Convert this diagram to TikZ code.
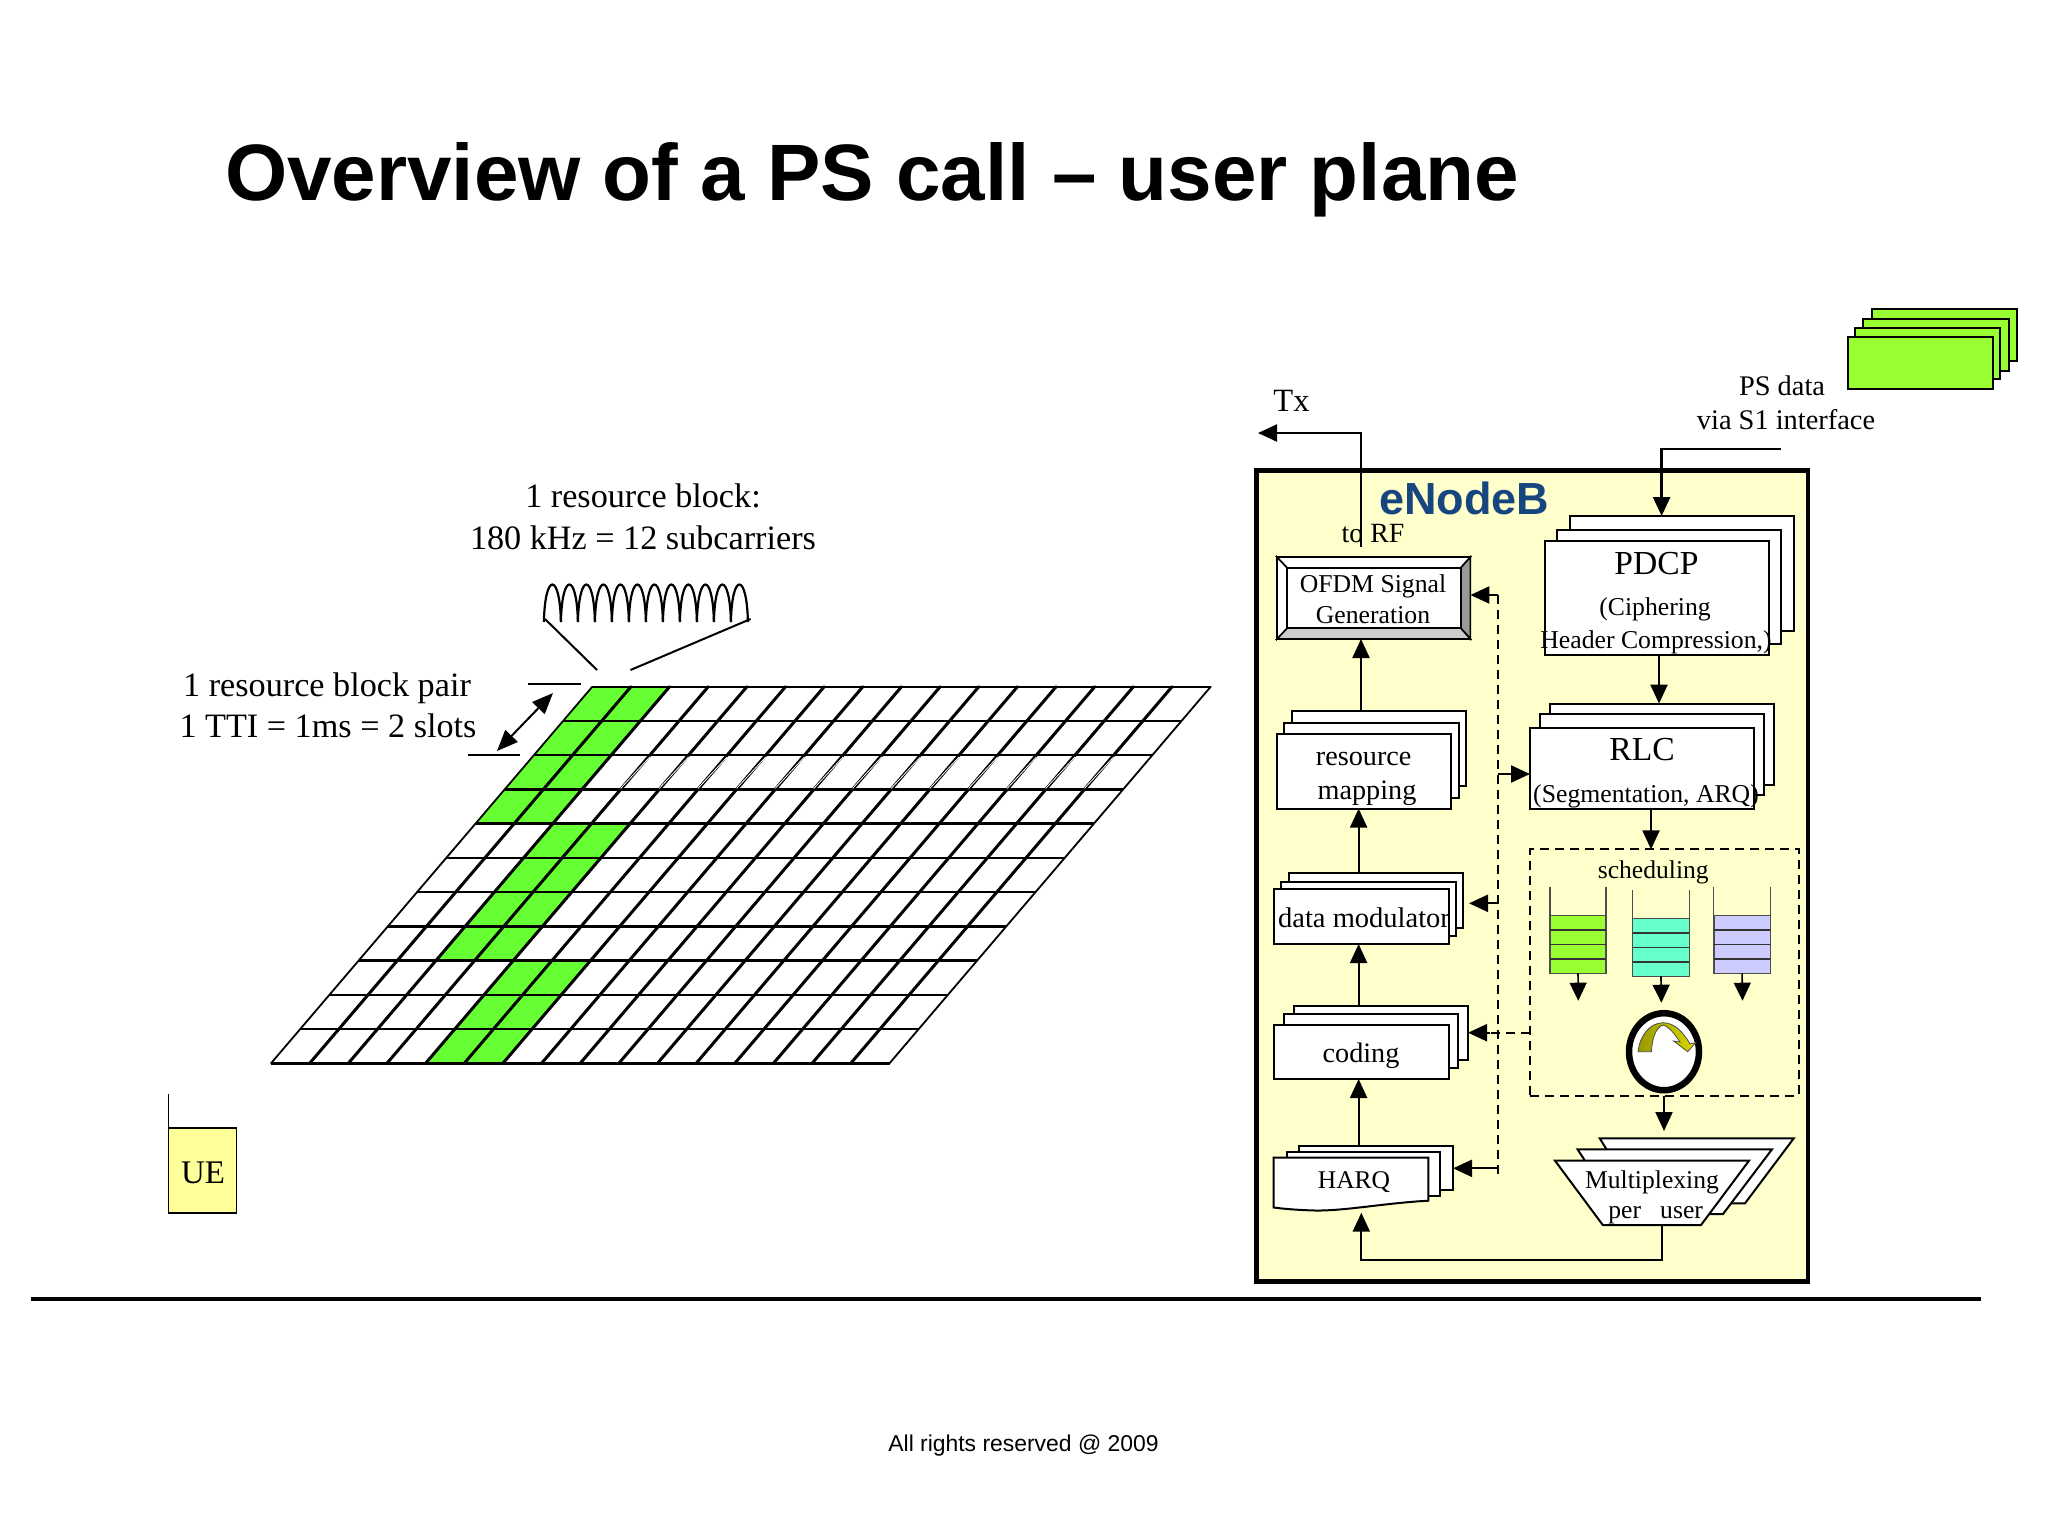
\documentclass[tikz,border=0pt]{standalone}
\usepackage{fontspec}
\setmainfont{Liberation Serif}
\newfontfamily\arialfont{Liberation Sans}
\usetikzlibrary{arrows.meta}
\definecolor{cellgreen}{HTML}{66FF33}
\definecolor{limegreen}{HTML}{99FF33}
\definecolor{aquagreen}{HTML}{66FFCC}
\definecolor{lilac}{HTML}{CCCCFF}
\definecolor{paleyellow}{HTML}{FFFFCC}
\definecolor{uefill}{HTML}{FFFF99}
\definecolor{enbblue}{HTML}{17457F}
\newcommand{\fs}[1]{\fontsize{#1}{#1}\selectfont}
\newcommand{\rectnode}[6][]{%
  \pgfmathsetmacro\rw{#5-#3}\pgfmathsetmacro\rh{#6-#4}%
  \pgfmathsetmacro\rx{(#5+#3)/2}\pgfmathsetmacro\ry{(#6+#4)/2}%
  \node[pbox,minimum width=\rw pt,minimum height=\rh pt,#1] (#2) at (\rx,\ry) {};}
\tikzset{
  x=1pt,y=-1pt,
  pbox/.style={draw=black,fill=white,line width=2pt,inner sep=0pt,outer sep=0pt,rectangle},
  lbl/.style={anchor=base,inner sep=0pt,outer sep=0pt,text=black},
  arr/.style={line width=2.2pt,-{Triangle[length=19pt,width=17pt]}},
  dashline/.style={line width=2.2pt,dash pattern=on 9pt off 6pt},
  gridthin/.style={line width=1.8pt,line cap=round},
  gridthick/.style={line width=3pt,line cap=round},
}
\begin{document}
\begin{tikzpicture}
\useasboundingbox (0,0) rectangle (2048,1537);
\fill[white] (0,0) rectangle (2048,1537);

% title and footer
\node[lbl,anchor=base west,font=\arialfont\bfseries\fs{80}] (title) at (225,200) {Overview of a PS call – user plane};
\node[lbl,font=\arialfont\fs{22.9}] (footer) at (1023.5,1451) {All rights reserved @ 2009};
\coordinate (ruleL) at (31,1299);
\coordinate (ruleR) at (1981,1299);
\draw[line width=3.5pt] (ruleL) -- (ruleR);

% resource grid: cell (c,r) has its top-left corner at (592.3-29.2r+38.65c, 686.7+34.24r)
\newcommand{\gcell}[2]{%
  \pgfmathsetmacro\xa{592.3-29.2*#2+38.65*#1}\pgfmathsetmacro\ya{686.7+34.24*#2}%
  \pgfmathsetmacro\xb{\xa-29.2}\pgfmathsetmacro\yb{\ya+34.24}%
  \fill[cellgreen] (\xa,\ya) -- ++(77.3,0) -- (\xb+77.3,\yb) -- (\xb,\yb) -- cycle;}
\foreach \r in {0,...,3}{\gcell{0}{\r}}
\foreach \r in {4,...,7}{\gcell{2}{\r}}
\foreach \r in {8,9,10}{\gcell{4}{\r}}
\foreach \r in {0,...,11}{
  \pgfmathsetmacro\xa{592.3-29.2*\r}\pgfmathsetmacro\ya{686.7+34.24*\r}
  \draw[line width=2.4pt] (\xa,\ya) -- ++(618.4,0);}
\foreach \c in {1,...,15}{
  \pgfmathsetmacro\xa{592.3+38.65*\c}\pgfmathsetmacro\xb{271+38.65*\c}
  \draw[gridthick] (\xa,686.7) -- (\xb,1063.3);}
\draw[gridthin] (592.3,686.7) -- (271,1063.3);
\draw[gridthin] (1210.7,686.7) -- (889.5,1063.3);
\foreach \c in {3,...,15}{
  \pgfmathsetmacro\xa{592.3-58.4+38.65*\c}\pgfmathsetmacro\xb{\xa-29.2}
  \draw[white,line width=0.8pt] (\xa,756.9) -- (\xb,788.4);}

% subcarrier sketch
\foreach \i in {0,...,11}{
  \pgfmathsetmacro\p{552.4+17*\i}
  \draw[line width=2.2pt] (\p-8.5,622) .. controls (\p-7.5,572) and (\p+7.5,572) .. (\p+8.5,622);}
\coordinate (waveL) at (545,619);
\coordinate (waveR) at (750.6,619);
\coordinate (blockL) at (597,670);
\coordinate (blockR) at (630.5,670);
\draw[line width=2pt] (waveL) -- (blockL);
\draw[line width=2pt] (waveR) -- (blockR);
\node[lbl,font=\fs{34.2}] (rb1) at (643,507.5) {1 resource block:};
\node[lbl,font=\fs{34.2}] (rb2) at (643,549) {180 kHz = 12 subcarriers};
\node[lbl,font=\fs{34.2}] (rp1) at (327,696) {1 resource block pair};
\node[lbl,font=\fs{34.2}] (rp2) at (328,737) {1 TTI = 1ms = 2 slots};
\coordinate (t1a) at (528,684);\coordinate (t1b) at (581,684);
\coordinate (t2a) at (468,755.3);\coordinate (t2b) at (520,755.3);
\draw[line width=2pt] (t1a) -- (t1b);
\draw[line width=2pt] (t2a) -- (t2b);
\coordinate (tti1) at (553,693);\coordinate (tti2) at (497,751);
\draw[line width=2pt,{Triangle[length=21pt,width=17pt]}-{Triangle[length=21pt,width=17pt]}] (tti1) -- (tti2);

% UE
\rectnode[fill=uefill,line width=1.8pt]{ue}{168.5}{1128}{236.4}{1213}
\coordinate (ueTop) at (168.5,1094);
\draw[line width=1.8pt] (ue.north west) -- (ueTop);
\node[lbl,font=\fs{33}] (uet) at (203,1183) {UE};

% PS data packets
\rectnode[fill=limegreen]{g4}{1872}{309}{2017}{361.4}
\rectnode[fill=limegreen]{g3}{1863}{318.6}{2008.6}{371.4}
\rectnode[fill=limegreen]{g2}{1855}{327.5}{2000}{378.6}
\rectnode[fill=limegreen]{g1}{1848}{337}{1992.6}{389}
\node[lbl,font=\fs{28.4}] (ps1) at (1782,395) {PS data};
\node[lbl,font=\fs{28.4}] (ps2) at (1786,429) {via S1 interface};
\node[lbl,font=\fs{32.5}] (tx) at (1291.5,411) {Tx};

% eNodeB frame
\rectnode[fill=paleyellow,line width=4.5pt]{enb}{1256.5}{470.5}{1808}{1281.5}
\node[lbl,font=\arialfont\bfseries\fs{45}] (enbt) at (1464,514) {\textcolor{enbblue}{eNodeB}};

% OFDM
\rectnode{ofdm}{1277}{557}{1470.4}{639}
\fill[white,draw=black,line width=1.6pt] (ofdm.north west) -- (ofdm.south west) -- (1287.4,628) -- (1287.4,568) -- cycle;
\fill[white,draw=black,line width=1.6pt] (ofdm.north west) -- (ofdm.north east) -- (1460.6,568) -- (1287.4,568) -- cycle;
\fill[black!40,draw=black,line width=1.6pt] (ofdm.north east) -- (ofdm.south east) -- (1460.6,628) -- (1460.6,568) -- cycle;
\fill[black!20,draw=black,line width=1.6pt] (ofdm.south west) -- (ofdm.south east) -- (1460.6,628) -- (1287.4,628) -- cycle;
\rectnode{ofdmi}{1287.4}{568}{1460.6}{628}
\node[lbl,font=\fs{25.7}] (ofdm1) at (1373,592) {OFDM Signal};
\node[lbl,font=\fs{25.7}] (ofdm2) at (1373,623) {Generation};

% PDCP
\rectnode{pd3}{1570}{516}{1794}{631}
\rectnode{pd2}{1557}{530}{1781}{643.6}
\rectnode{pd1}{1545}{541}{1769.4}{655}
\node[lbl,font=\fs{33.6}] (pd1t) at (1656.5,574) {PDCP};
\node[lbl,font=\fs{25.7}] (pd2t) at (1655,615) {(Ciphering};
\node[lbl,font=\fs{25.7}] (pd3t) at (1656,648) {Header Compression,)};

% RLC
\rectnode{rl3}{1550}{703.6}{1774}{785}
\rectnode{rl2}{1540}{714}{1764}{795}
\rectnode{rl1}{1530}{727.5}{1754}{809}
\node[lbl,font=\fs{33.6}] (rl1t) at (1642,760) {RLC};
\node[lbl,font=\fs{25.7}] (rl2t) at (1646,802) {(Segmentation, ARQ)};

% resource mapping
\rectnode{rm3}{1291.5}{711.4}{1466}{786.4}
\rectnode{rm2}{1284}{723}{1458.6}{798}
\rectnode{rm1}{1277}{733.6}{1451}{808.6}
\node[lbl,font=\fs{28.2}] (rm1t) at (1363.7,765) {resource};
\node[lbl,font=\fs{28.2}] (rm2t) at (1367,799) {mapping};

% data modulator
\rectnode{dm3}{1289}{873}{1463}{928}
\rectnode{dm2}{1281}{881.7}{1456}{936}
\rectnode{dm1}{1273.7}{889}{1448.6}{944}
\node[lbl,font=\fs{28.5}] (dmt) at (1364,927) {data modulator};

% coding
\rectnode{co3}{1294}{1005.7}{1468}{1060}
\rectnode{co2}{1284}{1014}{1458}{1068}
\rectnode{co1}{1273.7}{1025}{1448.6}{1079}
\node[lbl,font=\fs{28.2}] (cot) at (1361,1062) {coding};

% HARQ
\rectnode{ha3}{1299.3}{1146}{1453}{1190}
\rectnode{ha2}{1286.7}{1152}{1439.8}{1195.7}
\draw[fill=white,line width=2pt] (1273.7,1157.7) -- (1428.3,1157.7) -- (1428.3,1200.7)
  .. controls (1385,1203) and (1345,1211) .. (1315,1210.5) .. controls (1298,1210) and (1285,1209) .. (1273.7,1207.5) -- cycle;
\coordinate (haBot) at (1361.3,1212.7);
\node[lbl,font=\fs{25.5}] (hat) at (1354,1188) {HARQ};

% scheduling
\rectnode[fill=none,dash pattern=on 9pt off 6pt]{sch}{1530}{849.3}{1798.7}{1095.7}
\node[lbl,font=\fs{25.6}] (scht) at (1653.3,878) {scheduling};
\newcommand{\queue}[6]{% name, x1, x2, opentop, filltop, colour
  \pgfmathsetmacro\qb{#5+57.6}\pgfmathsetmacro\qs{57.6/4}
  \draw[line width=1.2pt,black!70] (#2,#4) -- (#2,#5);
  \draw[line width=1.2pt,black!70] (#3,#4) -- (#3,#5);
  \pgfmathsetmacro\qw{#3-#2}\pgfmathsetmacro\qx{(#2+#3)/2}\pgfmathsetmacro\qy{#5+28.8}
  \node[rectangle,draw=black!70,fill=#6,line width=1.5pt,inner sep=0pt,outer sep=0pt,minimum width=\qw pt,minimum height=57.6pt] (#1) at (\qx,\qy) {};
  \foreach \k in {1,2,3}{\draw[line width=1.3pt,black!80] (#2,#5+\k*\qs) -- (#3,#5+\k*\qs);}
}
\queue{q1}{1550}{1606}{887}{915.7}{limegreen}
\queue{q2}{1632.6}{1689.3}{890}{918.7}{aquagreen}
\queue{q3}{1713.8}{1770.4}{887}{915.7}{lilac}
\node[circle,draw=black,fill=white,line width=6.5pt,inner sep=0pt,outer sep=0pt,minimum size=70pt,yscale=1.1] (rr) at (1664,1051.7) {};
\coordinate (q1t) at (1578.3,1000.7);
\coordinate (q2t) at (1661.4,1002.7);
\coordinate (q3t) at (1742.5,1000.7);
\draw[line width=1.6pt,-{Triangle[length=18pt,width=17pt]}] (q1.south) -- (q1t);
\draw[line width=1.6pt,-{Triangle[length=18pt,width=17pt]}] (q2.south) -- (q2t);
\draw[line width=1.6pt,-{Triangle[length=18pt,width=17pt]}] (q3.south) -- (q3t);
\path[draw=black!70,line width=0.8pt,left color=black!40!yellow,right color=yellow!85!black]
  (1638,1051.7) .. controls (1640,1035) and (1650,1023) .. (1663,1022.7)
  .. controls (1675,1023) and (1683,1032) .. (1690,1044)
  -- (1696,1042.3) -- (1687.7,1051.7) -- (1673.6,1041) -- (1680,1042)
  .. controls (1675,1035) and (1670,1027) .. (1663,1025)
  .. controls (1655,1028) and (1652,1040) .. (1651.4,1051.7) -- cycle;

% multiplexing
\draw[fill=white,line width=2pt] (1599.7,1138.3) -- (1793.8,1138.3) -- (1745,1203.3) -- (1640,1203.3) -- cycle;
\draw[fill=white,line width=2pt] (1577.5,1149.3) -- (1772,1149.3) -- (1723,1214) -- (1620,1214) -- cycle;
\draw[fill=white,line width=2pt] (1555,1160.7) -- (1749,1160.7) -- (1701,1225) -- (1602.8,1225) -- cycle;
\coordinate (muxBot) at (1662,1225);
\coordinate (muxTop) at (1664,1131);
\node[lbl,font=\fs{25.6}] (muxa) at (1652,1188) {Multiplexing};
\node[lbl,font=\fs{25.6}] (muxb) at (1655.6,1218) {per\ \ \ user};

% Tx and PS-data connectors
\node[lbl,font=\fs{27.8}] (torf) at (1373,542) {to RF};
\coordinate (rfFoot) at (1361,547);
\coordinate (txEnd) at (1258,433);
\draw[arr] (rfFoot) |- (txEnd);
\coordinate (psStart) at (1781,449);
\coordinate (psCorner) at (1661.6,449);
\draw[arr,line width=2.6pt] (psStart) -- (psCorner) -- (psCorner |- pd3.north);

% main chains
\coordinate (c1) at (1659,0);
\coordinate (c2) at (1651,0);
\coordinate (c3) at (1361,0);
\coordinate (c4) at (1358.6,0);
\draw[arr] (pd1.south -| c1) -- (rl3.north -| c1);
\draw[arr] (rl1.south -| c2) -- (sch.north -| c2);
\draw[arr] (rm3.north -| c3) -- (ofdm.south -| c3);
\draw[arr] (dm3.north -| c4) -- (rm1.south -| c4);
\draw[arr] (co3.north -| c4) -- (dm1.south -| c4);
\draw[arr] (ha3.north -| c4) -- (co1.south -| c4);
\draw[arr] (rr.south |- sch.south) -- (muxTop);
\draw[arr] (muxBot) -- (1662,1260) -| (haBot);

% dashed control bus
\coordinate (busTop) at (1498,595);
\coordinate (busBot) at (1498,1175);
\draw[dashline] (busTop) -- (busBot);
\coordinate (b1) at (1498,774);
\coordinate (b2) at (1498,903.3);
\coordinate (b2t) at (1469,903.3);
\coordinate (b3) at (1498,1168.3);
\draw[arr] (busTop) -- (ofdm.east |- busTop);
\draw[arr] (b1) -- (rl1.west |- b1);
\draw[arr] (b2) -- (b2t);
\coordinate (b4) at (1530,1032.7);
\coordinate (b4m) at (1490,1032.7);
\draw[dashline] (b4) -- (b4m);
\draw[arr] (b4m) -- (co3.east |- b4);
\draw[arr] (b3) -- (ha3.east |- b3);
\end{tikzpicture}
\end{document}
